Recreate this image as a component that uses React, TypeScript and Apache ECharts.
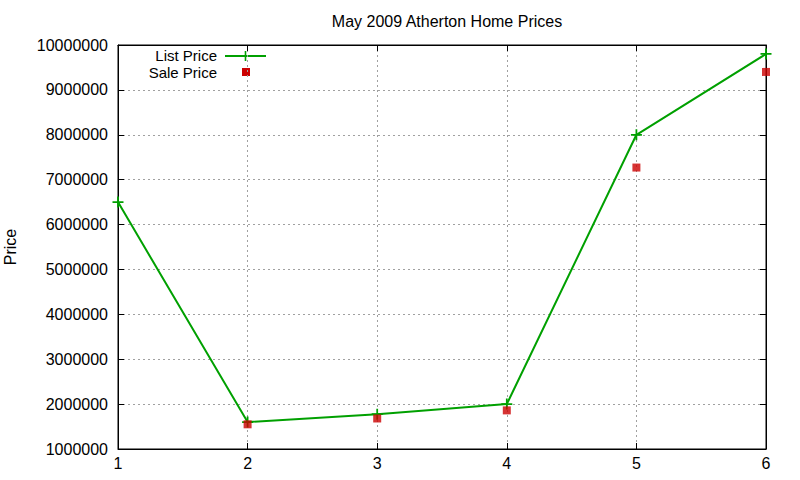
import * as echarts from "echarts";
import { useEffect, useRef } from "react";

const xValues = [1, 2, 3, 4, 5, 6];
const listPrice = [6500000, 1600000, 1775000, 2000000, 8000000, 9800000];
const salePrice = [null, 1550000, 1680000, 1860000, 7270000, 9400000];

const GREEN = "#00a000";
const RED = "#cc0000";
const FONT = "Liberation Sans, Arial, sans-serif";

// plus-shaped marker
const plusIcon = "path://M4.2,0h1.6v4.2h4.2v1.6h-4.2v4.2h-1.6v-4.2h-4.2v-1.6h4.2z";

const App: React.FC = () => {
    const chartRef = useRef<HTMLDivElement>(null);

    useEffect(() => {
        const chart = echarts.init(chartRef.current!, null, { renderer: "svg" });

        const axisTick = { show: true, inside: true, length: 6, lineStyle: { color: "#000" } };
        const splitLine = { show: true, lineStyle: { color: "#a0a0a0", type: [2, 3], width: 1 } };

        const option = {
            animation: false,
            backgroundColor: "#fff",
            textStyle: { fontFamily: FONT },
            title: {
                text: "May 2009 Atherton Home Prices",
                left: 442,
                textAlign: "center",
                top: 8,
                textStyle: { fontSize: 16, fontWeight: "normal", color: "#000", fontFamily: FONT },
            },
            grid: {
                left: 118,
                right: 34,
                top: 45,
                bottom: 31,
                outerBoundsMode: "none",
                containLabel: false,
                show: true,
                borderColor: "#000",
                borderWidth: 1,
            },
            xAxis: [
                {
                    type: "value",
                    min: 1,
                    max: 6,
                    interval: 1,
                    axisLine: { show: true, lineStyle: { color: "#000" } },
                    axisTick,
                    splitLine,
                    axisLabel: { color: "#000", fontSize: 16, margin: 6, fontFamily: FONT },
                },
                {
                    type: "value",
                    position: "top",
                    min: 1,
                    max: 6,
                    interval: 1,
                    axisLine: { show: true, lineStyle: { color: "#000" } },
                    axisTick,
                    splitLine: { show: false },
                    axisLabel: { show: false },
                },
            ],
            yAxis: [
                {
                    type: "value",
                    min: 1000000,
                    max: 10000000,
                    interval: 1000000,
                    name: "Price",
                    nameLocation: "middle",
                    nameRotate: 90,
                    nameGap: 100,
                    nameTextStyle: { color: "#000", fontSize: 16, fontFamily: FONT },
                    axisLine: { show: true, lineStyle: { color: "#000" } },
                    axisTick,
                    splitLine,
                    axisLabel: {
                        color: "#000",
                        fontSize: 16,
                        margin: 10,
                        fontFamily: FONT,
                        formatter: (v: number) => String(v),
                    },
                },
                {
                    type: "value",
                    position: "right",
                    min: 1000000,
                    max: 10000000,
                    interval: 1000000,
                    axisLine: { show: true, lineStyle: { color: "#000" } },
                    axisTick,
                    splitLine: { show: false },
                    axisLabel: { show: false },
                },
            ],
            graphic: [
                {
                    type: "text",
                    x: 217,
                    y: 55,
                    style: {
                        text: "List Price",
                        align: "right",
                        verticalAlign: "middle",
                        fill: "#000",
                        fontSize: 15,
                        lineHeight: 15,
                        fontFamily: FONT,
                    },
                },
                {
                    type: "line",
                    shape: { x1: 225, y1: 56, x2: 266, y2: 56 },
                    style: { stroke: GREEN, lineWidth: 2 },
                },
                {
                    type: "line",
                    shape: { x1: 245.5, y1: 51, x2: 245.5, y2: 61 },
                    style: { stroke: GREEN, lineWidth: 1.6 },
                },
                {
                    type: "text",
                    x: 217,
                    y: 72,
                    style: {
                        text: "Sale Price",
                        align: "right",
                        verticalAlign: "middle",
                        fill: "#000",
                        fontSize: 15,
                        lineHeight: 15,
                        fontFamily: FONT,
                    },
                },
                {
                    type: "rect",
                    shape: { x: 242, y: 68, width: 8, height: 8 },
                    style: { fill: RED },
                },
            ],
            series: [
                {
                    name: "List Price",
                    type: "line",
                    data: xValues.map((x, i) => [x, listPrice[i]]),
                    symbol: plusIcon,
                    symbolSize: 11,
                    showAllSymbol: true,
                    lineStyle: { color: GREEN, width: 2 },
                    itemStyle: { color: GREEN },
                    z: 3,
                },
                {
                    name: "Sale Price",
                    type: "scatter",
                    data: xValues
                        .map((x, i) => [x, salePrice[i]])
                        .filter((d) => d[1] !== null),
                    symbol: "rect",
                    symbolSize: 8,
                    itemStyle: { color: RED },
                    z: 4,
                },
            ],
        };

        chart.setOption(option);

        return () => {
            chart.dispose();
        };
    }, []);

    return (
        <div
            ref={chartRef}
            style={{
                width: "800px",
                height: "480px",
                position: "absolute",
                left: 0,
                top: 0,
            }}
        />
    );
};

export default App;
